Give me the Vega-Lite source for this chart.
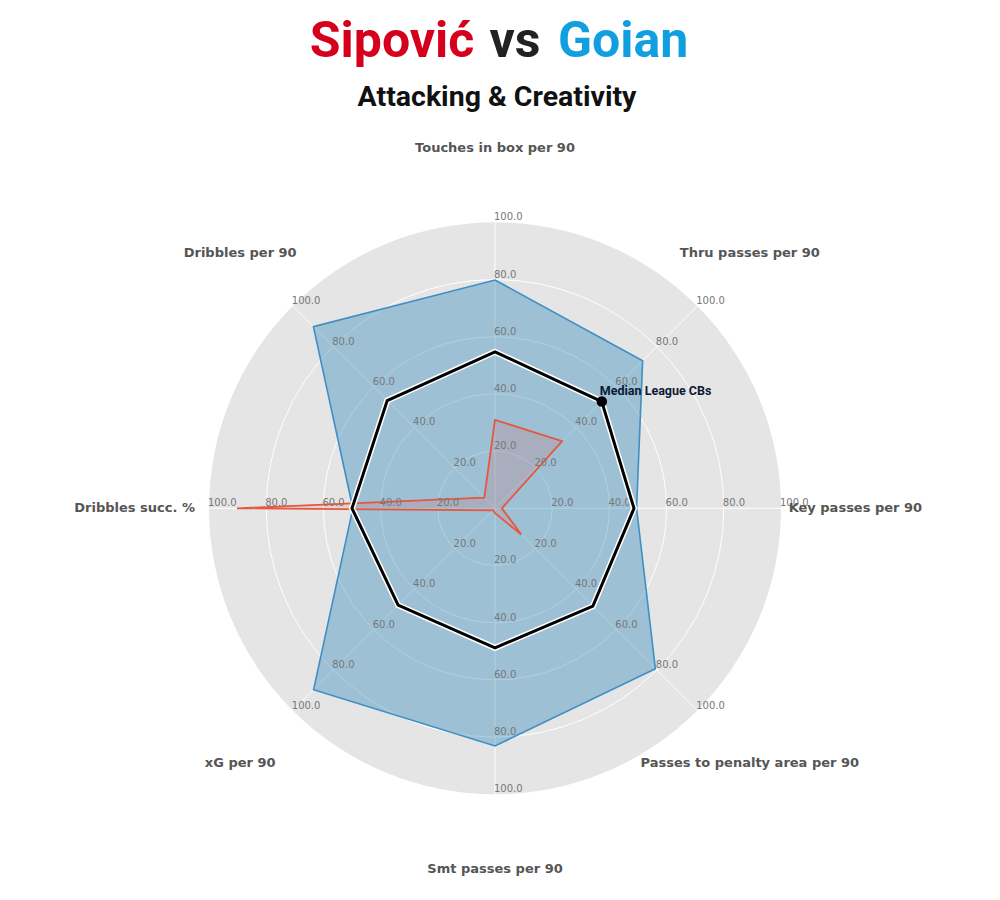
{
  "$schema": "https://vega.github.io/schema/vega-lite/v6.json",
  "width": 1000,
  "height": 900,
  "autosize": {"type": "fit", "contains": "padding"},
  "padding": 0,
  "background": "white",
  "config": {"view": {"stroke": null}},
  "datasets": {
    "metrics": [
      {"metric": "Touches in box per 90", "idx": 0, "Goian": 79.8, "Sipovic": 30.9, "Median": 54.7, "ticks": [20, 40, 60, 80, 100]},
      {"metric": "Thru passes per 90", "idx": 1, "Goian": 73, "Sipovic": 33.2, "Median": 52.8, "ticks": [20, 40, 60, 80, 100]},
      {"metric": "Key passes per 90", "idx": 2, "Goian": 49.5, "Sipovic": 2.4, "Median": 48.6, "ticks": [20, 40, 60, 80, 100]},
      {"metric": "Passes to penalty area per 90", "idx": 3, "Goian": 79.3, "Sipovic": 13, "Median": 48.4, "ticks": [20, 40, 60, 80, 100]},
      {"metric": "Smt passes per 90", "idx": 4, "Goian": 83.1, "Sipovic": 1.7, "Median": 48.8, "ticks": [20, 40, 60, 80, 100]},
      {"metric": "xG per 90", "idx": 5, "Goian": 89.7, "Sipovic": 1, "Median": 47.9, "ticks": [20, 40, 60, 80, 100]},
      {"metric": "Dribbles succ. %", "idx": 6, "Goian": 49.7, "Sipovic": 90.2, "Median": 50, "ticks": [20, 40, 60, 80, 100]},
      {"metric": "Dribbles per 90", "idx": 7, "Goian": 89.8, "Sipovic": 5.3, "Median": 53.3, "ticks": [20, 40, 60, 80, 100]}
    ],
    "rings": [{"r": 100}, {"r": 80}, {"r": 60}, {"r": 40}, {"r": 20}]
  },
  "data": {"name": "metrics"},
  "layer": [
    {
      "data": {"name": "rings"},
      "transform": [{"filter": "datum.r == 100"}],
      "mark": {"type": "point", "shape": "circle", "filled": true, "fill": "#e5e5e5", "opacity": 1, "strokeWidth": 0},
      "encoding": {
        "x": {"datum": 0, "type": "quantitative", "scale": {"domain": [-173.08, 176.57], "nice": false, "zero": false}, "axis": null},
        "y": {"datum": 0, "type": "quantitative", "scale": {"domain": [-136.96, 177.73], "nice": false, "zero": false}, "axis": null},
        "size": {"field": "r", "type": "quantitative", "scale": {"type": "pow", "exponent": 2, "domain": [0, 100], "range": [0, 327184]}, "legend": null}
      }
    },
    {
      "data": {"name": "rings"},
      "transform": [{"filter": "datum.r < 100"}],
      "mark": {"type": "point", "shape": "circle", "filled": false, "stroke": "#ffffff", "strokeWidth": 1, "opacity": 1},
      "encoding": {
        "x": {"datum": 0, "type": "quantitative"},
        "y": {"datum": 0, "type": "quantitative"},
        "size": {"field": "r", "type": "quantitative", "legend": null}
      }
    },
    {
      "transform": [
        {"calculate": "100 * sin(datum.idx * PI / 4)", "as": "x"},
        {"calculate": "100 * cos(datum.idx * PI / 4)", "as": "y"}
      ],
      "mark": {"type": "rule", "stroke": "#ffffff", "strokeWidth": 1},
      "encoding": {
        "x": {"field": "x", "type": "quantitative"},
        "y": {"field": "y", "type": "quantitative"},
        "x2": {"datum": 0},
        "y2": {"datum": 0}
      }
    },
    {
      "transform": [
        {"calculate": "datum.Goian * sin(datum.idx * PI / 4)", "as": "x"},
        {"calculate": "datum.Goian * cos(datum.idx * PI / 4)", "as": "y"}
      ],
      "mark": {"type": "line", "interpolate": "linear-closed", "fill": "#348ABD", "fillOpacity": 0.4, "stroke": "#3d8fc6", "strokeWidth": 1.6},
      "encoding": {
        "x": {"field": "x", "type": "quantitative"},
        "y": {"field": "y", "type": "quantitative"},
        "order": {"field": "idx", "type": "quantitative"}
      }
    },
    {
      "transform": [
        {"calculate": "datum.Sipovic * sin(datum.idx * PI / 4)", "as": "x"},
        {"calculate": "datum.Sipovic * cos(datum.idx * PI / 4)", "as": "y"}
      ],
      "mark": {"type": "line", "interpolate": "linear-closed", "fill": "#E24A33", "fillOpacity": 0.15, "stroke": "#E5573F", "strokeWidth": 1.8},
      "encoding": {
        "x": {"field": "x", "type": "quantitative"},
        "y": {"field": "y", "type": "quantitative"},
        "order": {"field": "idx", "type": "quantitative"}
      }
    },
    {
      "transform": [
        {"flatten": ["ticks"]},
        {"calculate": "datum.ticks * sin(datum.idx * PI / 4)", "as": "x"},
        {"calculate": "datum.ticks * cos(datum.idx * PI / 4)", "as": "y"}
      ],
      "mark": {"type": "text", "align": "left", "baseline": "alphabetic", "dx": -1, "dy": -2, "font": "DejaVu Sans", "fontSize": 10, "fill": "#777777"},
      "encoding": {
        "x": {"field": "x", "type": "quantitative"},
        "y": {"field": "y", "type": "quantitative"},
        "text": {"field": "ticks", "type": "quantitative", "format": ".1f"}
      }
    },
    {
      "transform": [
        {"calculate": "datum.Median * sin(datum.idx * PI / 4)", "as": "x"},
        {"calculate": "datum.Median * cos(datum.idx * PI / 4)", "as": "y"}
      ],
      "mark": {"type": "line", "interpolate": "linear-closed", "stroke": "#ffffff", "strokeWidth": 6, "strokeJoin": "miter"},
      "encoding": {
        "x": {"field": "x", "type": "quantitative"},
        "y": {"field": "y", "type": "quantitative"},
        "order": {"field": "idx", "type": "quantitative"}
      }
    },
    {
      "transform": [
        {"calculate": "datum.Median * sin(datum.idx * PI / 4)", "as": "x"},
        {"calculate": "datum.Median * cos(datum.idx * PI / 4)", "as": "y"}
      ],
      "mark": {"type": "line", "interpolate": "linear-closed", "stroke": "#000000", "strokeWidth": 3, "strokeJoin": "miter"},
      "encoding": {
        "x": {"field": "x", "type": "quantitative"},
        "y": {"field": "y", "type": "quantitative"},
        "order": {"field": "idx", "type": "quantitative"}
      }
    },
    {
      "transform": [
        {"filter": "datum.idx == 1"},
        {"calculate": "datum.Median * sin(datum.idx * PI / 4)", "as": "x"},
        {"calculate": "datum.Median * cos(datum.idx * PI / 4)", "as": "y"}
      ],
      "mark": {"type": "point", "shape": "circle", "filled": true, "fill": "#000000", "opacity": 1, "size": 110, "strokeWidth": 0},
      "encoding": {
        "x": {"field": "x", "type": "quantitative"},
        "y": {"field": "y", "type": "quantitative"}
      }
    },
    {
      "transform": [
        {"filter": "datum.idx == 1"},
        {"calculate": "datum.Median * sin(datum.idx * PI / 4)", "as": "x"},
        {"calculate": "datum.Median * cos(datum.idx * PI / 4)", "as": "y"}
      ],
      "mark": {"type": "text", "text": "Median League CBs", "align": "left", "baseline": "alphabetic", "dx": -2, "dy": -7, "font": "Roboto", "fontWeight": "bold", "fontSize": 12.5, "fill": "#0b1a36"},
      "encoding": {
        "x": {"field": "x", "type": "quantitative"},
        "y": {"field": "y", "type": "quantitative"}
      }
    },
    {
      "transform": [
        {"calculate": "126 * sin(datum.idx * PI / 4)", "as": "x"},
        {"calculate": "126 * cos(datum.idx * PI / 4)", "as": "y"}
      ],
      "mark": {"type": "text", "align": "center", "baseline": "middle", "font": "DejaVu Sans", "fontWeight": "bold", "fontSize": 13, "fill": "#555555"},
      "encoding": {
        "x": {"field": "x", "type": "quantitative"},
        "y": {"field": "y", "type": "quantitative"},
        "text": {"field": "metric", "type": "nominal"}
      }
    },
    {
      "data": {"values": [{"t": "Sipović"}]},
      "mark": {"type": "text", "align": "center", "baseline": "alphabetic", "font": "Roboto", "fontWeight": "bold", "fontSize": 50, "fill": "#d5001c"},
      "encoding": {"x": {"datum": -36.0}, "y": {"datum": 157.8}, "text": {"field": "t"}}
    },
    {
      "data": {"values": [{"t": "vs"}]},
      "mark": {"type": "text", "align": "center", "baseline": "alphabetic", "font": "Roboto", "fontWeight": "bold", "fontSize": 50, "fill": "#222222"},
      "encoding": {"x": {"datum": 7.0}, "y": {"datum": 157.8}, "text": {"field": "t"}}
    },
    {
      "data": {"values": [{"t": "Goian"}]},
      "mark": {"type": "text", "align": "center", "baseline": "alphabetic", "font": "Roboto", "fontWeight": "bold", "fontSize": 50, "fill": "#129fe0"},
      "encoding": {"x": {"datum": 44.8}, "y": {"datum": 157.8}, "text": {"field": "t"}}
    },
    {
      "data": {"values": [{"t": "Attacking & Creativity"}]},
      "mark": {"type": "text", "align": "center", "baseline": "alphabetic", "font": "Roboto", "fontWeight": "bold", "fontSize": 28.5, "fill": "#111111"},
      "encoding": {"x": {"datum": 0.7}, "y": {"datum": 140.6}, "text": {"field": "t"}}
    }
  ]
}
